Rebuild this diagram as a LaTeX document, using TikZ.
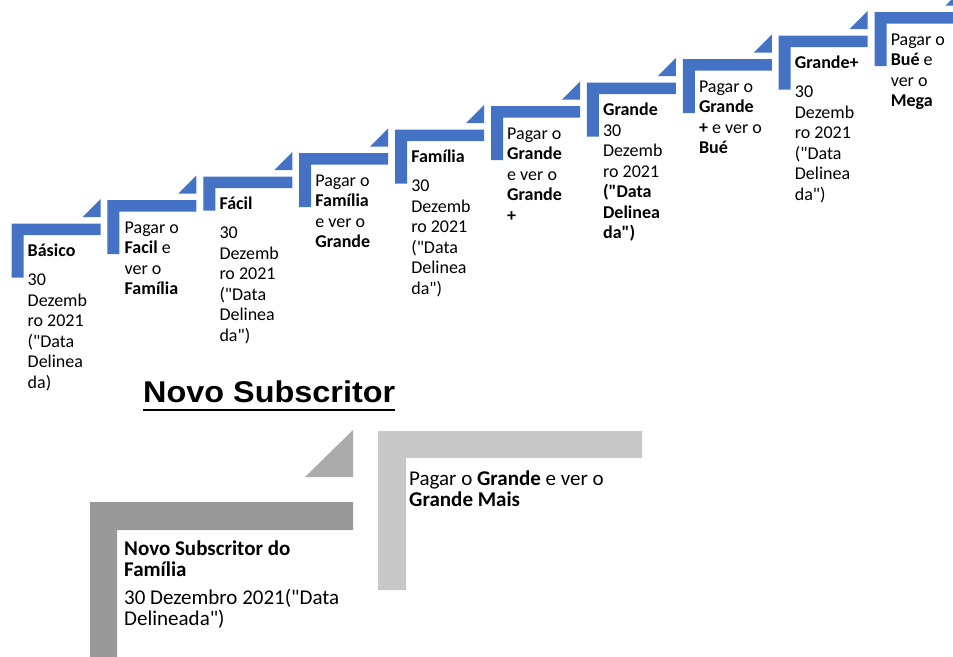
\documentclass[tikz,border=0pt]{standalone}
\usepackage{fontspec}
\setmainfont{Carlito}[Ligatures=TeXOff]
\newfontfamily\titlefont[FakeStretch=1.08]{Liberation Sans}
\definecolor{stepblue}{HTML}{4472C4}
\definecolor{darkstep}{HTML}{999999}
\definecolor{midtri}{HTML}{ABABAB}
\definecolor{lightstep}{HTML}{C8C8C8}
\newcommand{\firstline}[1]{\rule{0pt}{#1}}
\begin{document}
\begin{tikzpicture}[x=1pt,y=-1pt,
  toptext/.style={anchor=north west, inner sep=0pt, align=left, font=\fontsize{18}{20.5}\selectfont},
  bottext/.style={anchor=north west, inner sep=0pt, align=left, font=\fontsize{21}{21.5}\selectfont},
  titletext/.style={anchor=base west, inner sep=0pt, font=\titlefont\bfseries\fontsize{30}{36}\selectfont}]
\useasboundingbox (0,0) rectangle (953,656);
\clip (0,0) rectangle (953,656);
\fill[white] (0,0) rectangle (953,656);

% ---- top staircase of blue steps ----
\foreach \i/\len in {0/54,1/54,2/34,3/54,4/54,5/54,6/54,7/54,8/54,9/54} {
  \pgfmathsetmacro\xa{11.5+95.9*\i}
  \pgfmathsetmacro\ya{223.5-23.5*\i}
  \fill[stepblue] (\xa,\ya) -- ++(89,0) -- ++(0,11.5) -- ++(-77,0) -- ++(0,\len-11.5) -- ++(-12,0) -- cycle;
  \fill[stepblue] (\xa+89,\ya-6.5) -- ++(-18,0) -- ++(18,-18) -- cycle;
}

\node[toptext] (s1) at (27.5,241.5) {\firstline{15pt}\textbf{Básico}\\[8.5pt]30\\Dezemb\\ro 2021\\("Data\\Delinea\\da)};
\node[toptext] (s2) at (124.5,218) {\firstline{15pt}Pagar o\\\textbf{Facil} e\\ver o\\\textbf{Família}};
\node[toptext] (s3) at (219.3,194.5) {\firstline{15pt}\textbf{Fácil}\\[8.5pt]30\\Dezemb\\ro 2021\\("Data\\Delinea\\da")};
\node[toptext] (s4) at (315.2,171) {\firstline{15pt}Pagar o\\\textbf{Família}\\e ver o\\\textbf{Grande}};
\node[toptext] (s5) at (411.1,147.5) {\firstline{15pt}\textbf{Família}\\[8.5pt]30\\Dezemb\\ro 2021\\("Data\\Delinea\\da")};
\node[toptext] (s6) at (507,124) {\firstline{15pt}Pagar o\\\textbf{Grande}\\e ver o\\\textbf{Grande}\\\textbf{+}};
\node[toptext] (s7) at (602.9,100.5) {\firstline{15pt}\textbf{Grande}\\30\\Dezemb\\ro 2021\\\textbf{("Data}\\\textbf{Delinea}\\\textbf{da")}};
\node[toptext] (s8) at (698.8,77) {\firstline{15pt}Pagar o\\\textbf{Grande}\\\textbf{+} e ver o\\\textbf{Bué}};
\node[toptext] (s9) at (794.7,53.5) {\firstline{15pt}\textbf{Grande+}\\[8.5pt]30\\Dezemb\\ro 2021\\("Data\\Delinea\\da")};
\node[toptext] (s10) at (890.6,30) {\firstline{15pt}Pagar o\\\textbf{Bué} e\\ver o\\\textbf{Mega}};

% ---- title ----
\node[titletext] (title) at (143,402) {Novo Subscritor};
\draw[line width=2.8pt] ([yshift=-8pt]title.base west) -- ([yshift=-8pt]title.base east);

% ---- bottom grey steps ----
\fill[darkstep] (90,502) -- (353,502) -- (353,530) -- (117,530) -- (117,661) -- (90,661) -- cycle;
\fill[midtri] (305,477) -- (353,477) -- (353,430) -- cycle;
\fill[lightstep] (378,431) -- (642,431) -- (642,458) -- (406,458) -- (406,590) -- (378,590) -- cycle;

\node[bottext] (b1) at (124,538) {\firstline{17pt}\textbf{Novo Subscritor do}\\\textbf{Família}\\[6pt]30 Dezembro 2021("Data\\Delineada")};
\node[bottext] (b2) at (409,468) {\firstline{17pt}Pagar o \textbf{Grande} e ver o\\\textbf{Grande Mais}};
\end{tikzpicture}
\end{document}
